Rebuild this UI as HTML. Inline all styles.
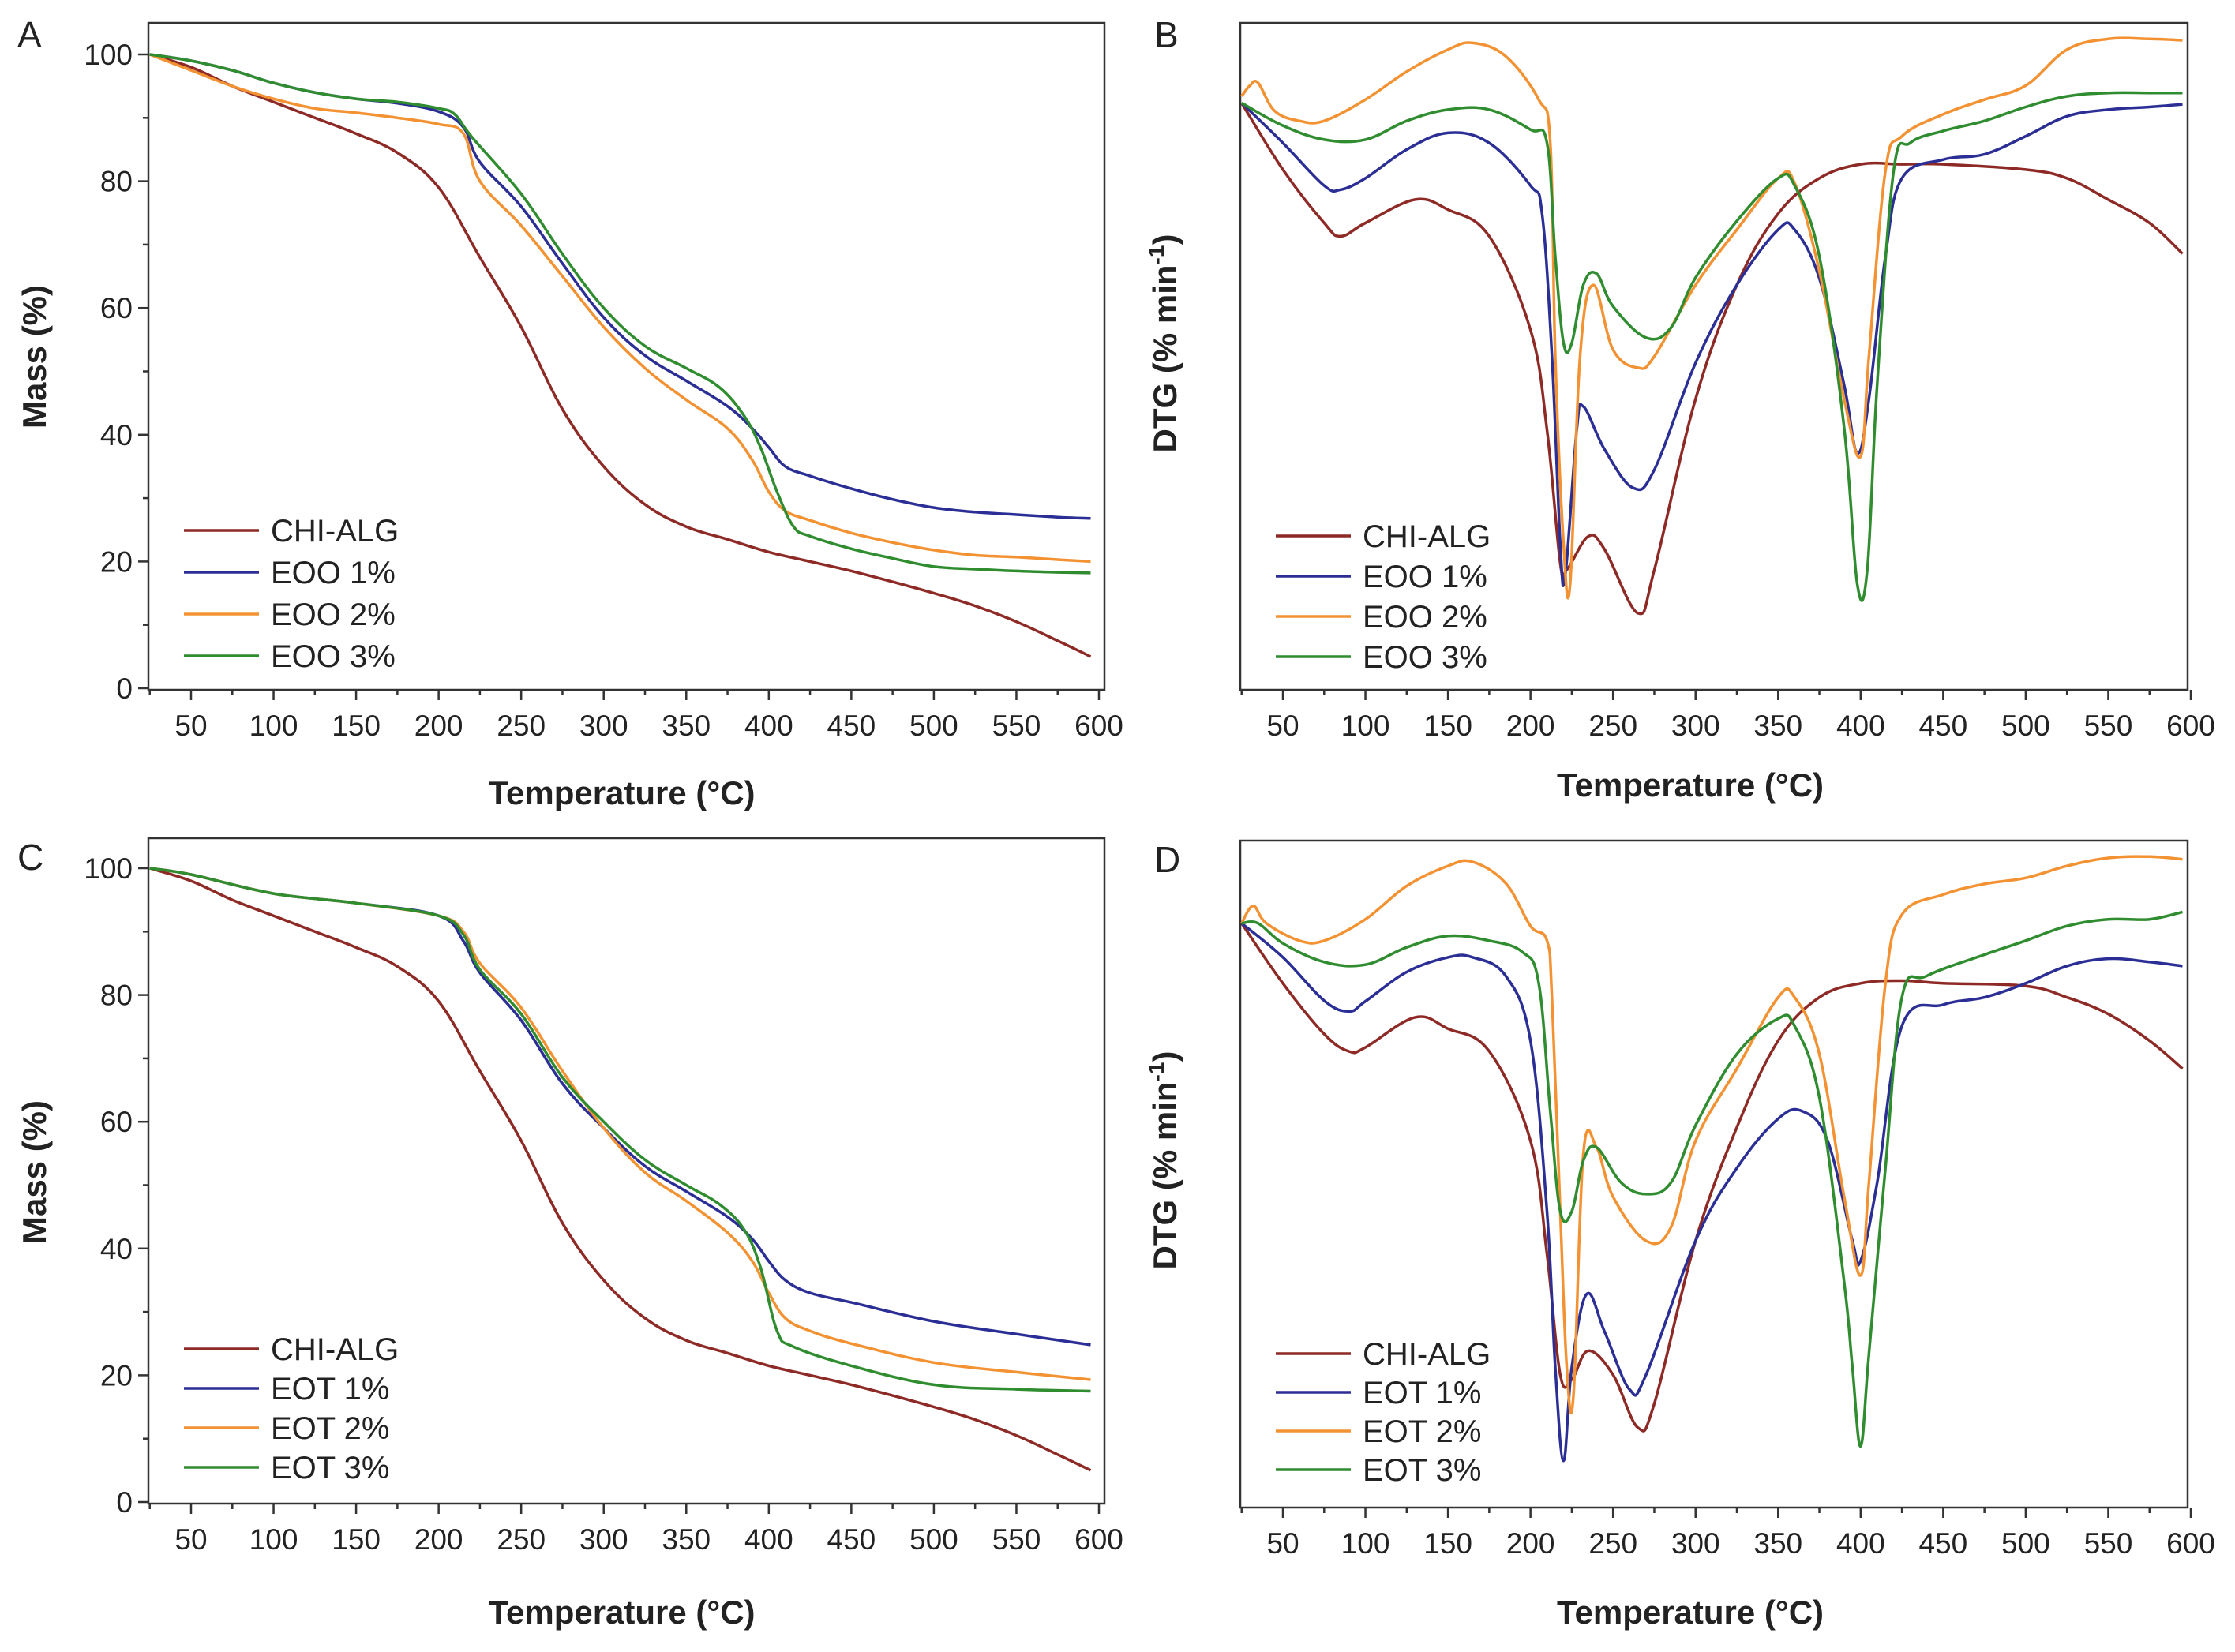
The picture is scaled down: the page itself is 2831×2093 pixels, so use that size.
<!DOCTYPE html>
<html><head><meta charset="utf-8"><style>
html,body{margin:0;padding:0;background:#fff;}
svg{display:block;font-family:"Liberation Sans",Arial,sans-serif;}
</style></head><body>
<svg id="fig" width="2831" height="2093" viewBox="0 0 2831 2093" xmlns="http://www.w3.org/2000/svg"></svg>
<script>
const temps_chi_tga=[25,50,75,100,125,150,175,200,225,250,275,300,325,350,375,400,425,450,475,500,525,550,575,595];
const mass_chi=[100,98,95,92.5,90,87.5,84.5,79,68,57,44,35,29,25.5,23.5,21.5,20,18.5,16.8,15,13,10.5,7.5,5];
const temps_eoo1=[25,50,75,100,125,150,175,200,215,225,250,275,300,325,350,375,390,400,410,425,450,475,500,525,550,575,595];
const mass_eoo1=[100,99,97.5,95.5,94,93,92.3,91,88.5,83,76,67,58.5,52.5,48.5,44.5,41,38,35,33.5,31.5,29.8,28.5,27.8,27.4,27,26.8];
const temps_eoo2=[25,50,75,100,125,150,175,200,215,225,250,275,300,325,350,375,390,400,410,425,450,475,500,525,550,575,595];
const mass_eoo2=[100,97.5,95,93,91.5,90.8,90,89,87.5,80,73,65,57,50.5,45.5,41,36,31,28,26.5,24.5,23,21.8,21,20.7,20.3,20];
const temps_eoo3=[25,50,75,100,125,150,175,200,210,220,250,275,300,325,350,370,385,395,405,415,425,450,475,500,525,550,575,595];
const mass_eoo3=[100,99,97.5,95.5,94,93,92.5,91.5,90.5,87,78,68.5,60,54,50.5,47.5,43,38,31,25.5,24,22,20.5,19.2,18.8,18.5,18.3,18.2];
const temps_eot=[25,50,100,150,200,215,225,250,275,300,325,350,375,390,400,410,425,450,500,550,595];
const mass_eot1=[100,99,96,94.5,92.5,88.5,83.5,76,66,59,53,49,45,41.5,38,35,33,31.5,28.5,26.5,24.8];
const mass_eot2=[100,99,96,94.5,92.5,90,85,78,68,59,52,47.5,42.5,38,33,29,27,25,22,20.5,19.3];
const temps_eot3=[25,50,100,150,200,215,225,250,275,300,325,350,370,385,395,405,415,450,500,550,595];
const mass_eot3=[100,99,96,94.5,92.5,89.5,84,77,67,60,54,50,47,43,37,27,24.5,21.5,18.5,17.8,17.5];

const tB_chi=[25,50,75,85,100,130,150,175,200,210,218,222,235,245,265,275,300,325,350,375,400,425,450,500,525,550,575,595];
const dB_chi=[88,78,70,68,70,73.5,72,68,54,39,19,18,23,21,11.5,18,43.6,60.7,71.4,76.7,78.8,78.8,78.8,78,76.7,73.5,70,65.4];
const tB_1=[25,50,75,85,100,125,150,175,200,207,213,218,221,228,232,245,262,275,300,325,350,360,375,390,398,405,415,425,450,475,500,525,550,575,595];
const dB_1=[88,82,75.6,75,76.7,81,83.5,82,75.6,71.4,50,22,17,39,42.5,36,30.3,33,49,60.7,69,69,61.7,45.7,35.5,43.6,65,76.7,79.5,80.3,83,86,87,87.4,87.8];
const tB_2=[25,30,35,45,60,75,100,125,150,165,185,205,212,215,220,224,230,238,250,265,275,300,325,350,360,375,390,400,405,415,425,450,475,500,525,550,575,595];
const dB_2=[89,90.6,91,86.8,85.3,85.3,88.5,92.7,96,97,95,88.5,82,50,22,15.8,50,60.7,51,48.3,50,60.7,69,76.7,76,62.8,43.6,35,50,77.8,83,86.3,88.5,90.6,96,97.6,97.6,97.4];
const tB_3=[25,50,75,100,125,150,175,200,210,215,220,225,232,240,250,270,285,300,325,350,360,375,390,398,404,410,420,430,450,475,500,525,550,575,595];
const dB_3=[88,84.6,82.5,82.5,85.3,87,87,84,82,65,52,52,60.7,62.4,57.5,52.8,54.3,61.8,70.3,76.7,75.6,65,39.3,15.8,18,45.7,77.8,82,83.8,85.3,87.4,89,89.5,89.5,89.5];

const tD_chi=[25,50,75,90,100,130,150,175,200,210,218,225,235,250,265,275,300,325,350,375,400,425,450,500,525,550,575,595];
const dD_chi=[87.6,78.6,71,68.4,69,73.5,71.8,68.4,55,38,19.9,19.2,23.5,19.9,12,15.6,40,57,70,76.5,78.6,79,78.6,78.2,76.5,74,70,65.8];
const tD_1=[25,50,75,90,100,125,150,165,185,200,210,215,220,225,234,245,260,270,300,325,350,365,380,395,400,410,425,450,475,500,525,550,575,595];
const dD_1=[87.6,82.5,76,74.4,75.9,80.3,82.5,82.5,79.7,70,44.4,21,7,21,32,26.3,17.7,19.9,40,50.9,58.3,59.4,55,40,37,48.7,72.2,75.4,76.5,78.6,81.2,82.3,81.8,81.2];
const tD_2=[25,32,40,60,75,100,125,150,165,185,200,210,213,218,222,226,232,240,250,270,285,300,325,350,360,375,390,400,405,415,425,450,475,500,525,550,575,595];
const dD_2=[87.6,90.2,87.6,85,85,88.2,93.2,96.2,96.8,93.6,87.2,85,76.5,44.4,21,16.7,53,54,46.6,40,42,55,65.8,76.5,76.5,68,46.6,34.8,48.7,78.6,88.9,91.9,93.5,94.4,96.2,97.4,97.6,97.2];
const tD_3=[25,35,50,75,100,125,150,175,195,205,212,218,225,232,240,255,270,285,300,325,350,360,375,390,395,400,405,415,425,440,475,500,525,550,575,595];
const dD_3=[87.6,87.6,84.6,81.8,81.4,84,85.7,85,83.3,78.6,59.4,44.4,44.4,52,54,48.7,47,48.7,57.3,68,73.3,72.2,61.5,33.8,21,9.2,23,50.9,76.5,79.7,82.9,85,87.2,88.2,88.2,89.3];

const xTicks=[50,100,150,200,250,300,350,400,450,500,550,600];
const yTicks=[0,20,40,60,80,100];
const COL={chi:"#8e2a26",c1:"#2b2f95",c2:"#f39233",c3:"#2f8c2f"};
const svg=document.getElementById('fig');
const NS="http://www.w3.org/2000/svg";
function mk(tag,attrs,parent){const e=document.createElementNS(NS,tag);for(const k in attrs)e.setAttribute(k,attrs[k]);(parent||svg).appendChild(e);return e;}
function smoothPath(P){
  let d='M'+P[0][0].toFixed(1)+','+P[0][1].toFixed(1);
  const k=0.18;
  for(let i=0;i<P.length-1;i++){
    const p0=P[Math.max(0,i-1)],p1=P[i],p2=P[i+1],p3=P[Math.min(P.length-1,i+2)];
    const c1x=p1[0]+(p2[0]-p0[0])*k,c1y=p1[1]+(p2[1]-p0[1])*k;
    const c2x=p2[0]-(p3[0]-p1[0])*k,c2y=p2[1]-(p3[1]-p1[1])*k;
    d+=' C'+c1x.toFixed(1)+','+c1y.toFixed(1)+' '+c2x.toFixed(1)+','+c2y.toFixed(1)+' '+p2[0].toFixed(1)+','+p2[1].toFixed(1);
  }
  return d;
}

function panel(p){
  const g=mk('g',{});
  
  
  const xs=v=>p.x50+(v-50)*(p.x600-p.x50)/550;
  const ys=p.tga?(v=>p.y0+(p.y100-p.y0)*v/100):(v=>p.B-(p.B-p.T)*v/100);
  const box=mk('rect',{x:p.L,y:p.T,width:p.R-p.L,height:p.B-p.T,fill:'none',stroke:'#333',"stroke-width":2.5},g);
  
  
  for(let v=25;v<=600;v+=25){
    const X=xs(v);const major=v%50===0;
    mk('line',{x1:X,x2:X,y1:p.B,y2:p.B+(major?13:7),stroke:'#333',"stroke-width":2.5},g);
  }
  xTicks.forEach(v=>{
    const t=mk('text',{x:xs(v),y:p.B+58,"font-size":37,"text-anchor":"middle",fill:'#222'},g);
    t.textContent=v;
    
    
  });
  if(p.tga){
    for(let v=0;v<=100;v+=10){
      const Y=ys(v);const major=v%20===0;
      mk('line',{x1:p.L,x2:p.L-(major?13:7),y1:Y,y2:Y,stroke:'#333',"stroke-width":2.5},g);
    }
    yTicks.forEach(v=>{
      const t=mk('text',{x:p.L-20,y:ys(v)+13,"font-size":37,"text-anchor":"end",fill:'#222'},g);
      t.textContent=v;
      
      
    });
  }
  const xt=mk('text',{x:(p.L+p.R)/2+p.xtOff,y:p.xtY,"font-size":42,"font-weight":"bold","text-anchor":"middle",fill:'#222'},g);
  xt.textContent='Temperature (°C)';
  
  
  const yt=mk('text',{x:0,y:0,"font-size":42,"font-weight":"bold","text-anchor":"middle",fill:'#222',transform:`translate(${p.ytX},${p.ytY}) rotate(-90)`},g);
  if(p.tga){yt.textContent='Mass (%)';}
  else{yt.textContent='DTG (% min';const s=mk('tspan',{dy:-16,"font-size":28},yt);s.textContent='-1';const s2=mk('tspan',{dy:16},yt);s2.textContent=')';}
  
  
  const lt=mk('text',{x:p.lx,y:p.ly,"font-size":46,fill:'#222'},g);
  lt.textContent=p.letter;
  
  
  p.series.forEach((s,i)=>{
    const P=s.t.map((t,j)=>[xs(t),ys(s.v[j])]);
    const pl=mk('path',{d:smoothPath(P),fill:'none',stroke:s.c,"stroke-width":3.5,"stroke-linejoin":"round"},g);
    
    
    const Ly=p.legY+i*p.legDy;
    const ll=mk('line',{x1:p.legX,x2:p.legX+95,y1:Ly,y2:Ly,stroke:s.c,"stroke-width":3.5},g);
    
    
    const tx=mk('text',{x:p.legX+110,y:Ly+14,"font-size":40,fill:'#222'},g);
    tx.textContent=s.label;
    
    
  });
}
panel({name:'panel-a',letter:'A',lx:22,ly:60,tga:true,L:188,R:1399,T:29,B:874,x50:242,x600:1392,y0:872,y100:69,xtOff:-6,xtY:1019,ytX:58,ytY:452,legX:233,legY:672,legDy:53,
 series:[{key:'chi-alg',label:'CHI-ALG',c:COL.chi,t:temps_chi_tga,v:mass_chi},{key:'eoo-1',label:'EOO 1%',c:COL.c1,t:temps_eoo1,v:mass_eoo1},{key:'eoo-2',label:'EOO 2%',c:COL.c2,t:temps_eoo2,v:mass_eoo2},{key:'eoo-3',label:'EOO 3%',c:COL.c3,t:temps_eoo3,v:mass_eoo3}]});
panel({name:'panel-c',letter:'C',lx:22,ly:1102,tga:true,L:188,R:1399,T:1062,B:1905,x50:242,x600:1392,y0:1903,y100:1100,xtOff:-6,xtY:2057,ytX:58,ytY:1485,legX:233,legY:1709,legDy:50,
 series:[{key:'chi-alg',label:'CHI-ALG',c:COL.chi,t:temps_chi_tga,v:mass_chi},{key:'eot-1',label:'EOT 1%',c:COL.c1,t:temps_eot,v:mass_eot1},{key:'eot-2',label:'EOT 2%',c:COL.c2,t:temps_eot,v:mass_eot2},{key:'eot-3',label:'EOT 3%',c:COL.c3,t:temps_eot3,v:mass_eot3}]});
panel({name:'panel-b',letter:'B',lx:1462,ly:60,tga:false,L:1571,R:2771,T:29,B:874,x50:1625,x600:2775,xtOff:-30,xtY:1009,ytX:1490,ytY:435,legX:1616,legY:679,legDy:51,
 series:[{key:'chi-alg',label:'CHI-ALG',c:COL.chi,t:tB_chi,v:dB_chi},{key:'eoo-1',label:'EOO 1%',c:COL.c1,t:tB_1,v:dB_1},{key:'eoo-2',label:'EOO 2%',c:COL.c2,t:tB_2,v:dB_2},{key:'eoo-3',label:'EOO 3%',c:COL.c3,t:tB_3,v:dB_3}]});
panel({name:'panel-d',letter:'D',lx:1462,ly:1105,tga:false,L:1571,R:2771,T:1065,B:1910,x50:1625,x600:2775,xtOff:-30,xtY:2057,ytX:1490,ytY:1470,legX:1616,legY:1715,legDy:49,
 series:[{key:'chi-alg',label:'CHI-ALG',c:COL.chi,t:tD_chi,v:dD_chi},{key:'eot-1',label:'EOT 1%',c:COL.c1,t:tD_1,v:dD_1},{key:'eot-2',label:'EOT 2%',c:COL.c2,t:tD_2,v:dD_2},{key:'eot-3',label:'EOT 3%',c:COL.c3,t:tD_3,v:dD_3}]});
</script>
</body></html>
